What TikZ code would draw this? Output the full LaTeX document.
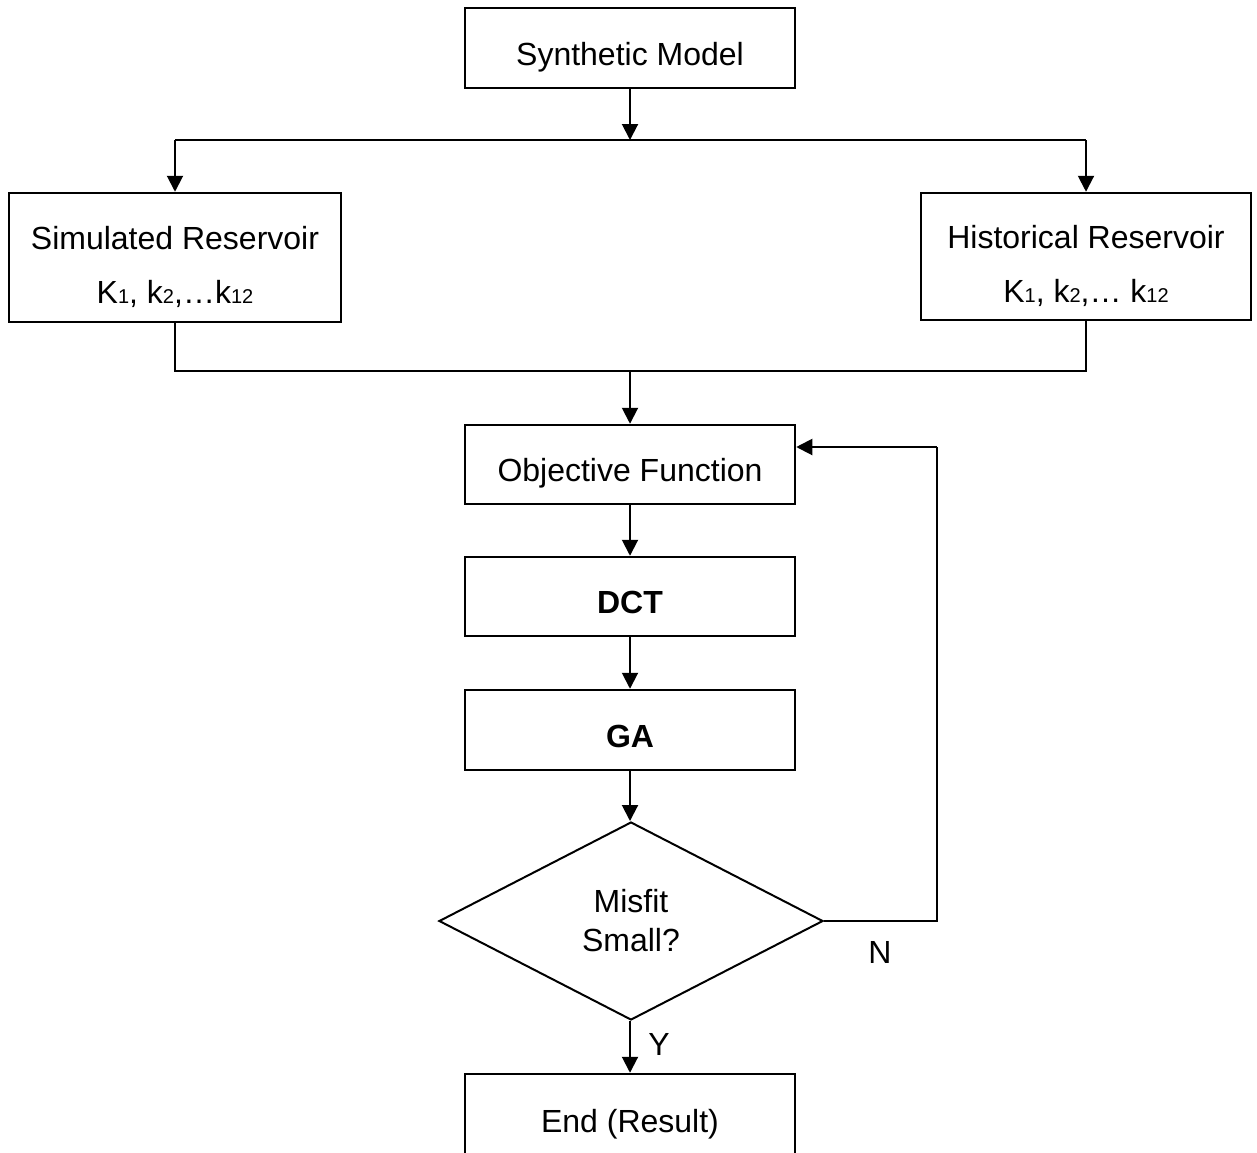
\documentclass[tikz,border=0pt]{standalone}
\usepackage{fontspec}
\setmainfont{Liberation Sans}
\usetikzlibrary{arrows.meta,shapes.geometric}
\newcommand\sbs[1]{{\fontsize{20}{20}\selectfont #1}}
\begin{document}
\begin{tikzpicture}[x=1pt,y=-1pt,
 box/.style={draw,line width=2.5pt,inner sep=0pt,align=center,font=\fontsize{32}{54}\selectfont,text height=34pt,text depth=0pt},
 box2/.style={box,text height=92pt,text depth=0pt},
 arr/.style={line width=2pt,-{Triangle[width=16pt,length=16pt]}},
 thinl/.style={line width=1.3pt},
 lab/.style={font=\fontsize{32}{39}\selectfont,align=center}]
\useasboundingbox (0,0) rectangle (1257,1152);
\node[box,minimum width=330pt,minimum height=80pt] (syn) at (630,48) {Synthetic Model};
\node[box2,minimum width=332pt,minimum height=129pt] (sim) at (175,257.5) {Simulated Reservoir\\K\sbs{1}, k\sbs{2},\dots k\sbs{12}};
\node[box2,minimum width=330pt,minimum height=127pt] (hist) at (1086,256.5) {Historical Reservoir\\K\sbs{1}, k\sbs{2},\dots\ k\sbs{12}};
\node[box,minimum width=330pt,minimum height=79pt] (obj) at (630,464.5) {Objective Function};
\node[box,minimum width=330pt,minimum height=79pt] (dct) at (630,596.5) {\bfseries DCT};
\node[box,minimum width=330pt,minimum height=80pt] (ga) at (630,730) {\bfseries GA};
\node[draw,diamond,line width=2pt,inner sep=0pt,minimum width=384pt,minimum height=198pt,lab] (dia) at (631,921) {Misfit\\Small?};
\node[box,minimum width=330pt,minimum height=82pt] (end) at (630,1115) {End (Result)};
\coordinate (sl) at (175,140);
\coordinate (sc) at (630,140);
\coordinate (sr) at (1086,140);
\coordinate (ml) at (175,371);
\coordinate (mr) at (1086,371);
\coordinate (mc) at (630,372);
\coordinate (fb1) at (937,921);
\coordinate (fb2) at (937,447);
\draw[thinl] (sl) -- (sr);
\draw[arr] (syn) -- (sc);
\draw[arr] (sl) -- (sim);
\draw[arr] (sr) -- (hist);
\draw[thinl] (sim.south) -- (ml) -- (mr) -- (hist.south);
\draw[arr] (mc) -- (obj);
\draw[arr] (obj) -- (dct);
\draw[arr] (dct) -- (ga);
\draw[arr] (ga) -- (ga |- dia.north);
\draw[arr] (dia.south -| end) -- (end) node[lab,pos=0.45,right=14pt] (ylab) {Y};
\draw[thinl] (dia.east) -- (fb1) -- (fb2);
\draw[arr] (fb2) -- (obj.east |- fb2);
\node[lab] (nlab) at (880,952) {N};
\end{tikzpicture}
\end{document}
